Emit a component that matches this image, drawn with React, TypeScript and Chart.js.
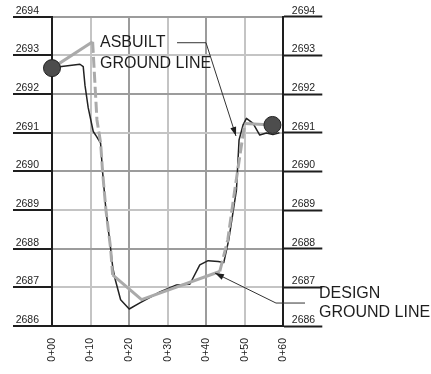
import React, { useEffect, useRef } from "react";
import { Chart, registerables } from "chart.js";

Chart.register(...registerables);

// Stations (x, in feet along the section) and elevations
const stationTicks = [0, 10, 20, 30, 40, 50, 60];
const elevationMin = 2686;
const elevationMax = 2694;

const designX = [0, 10.54, 11.66, 12.62, 13.13, 13.99, 15.21, 15.73, 23.24, 43.52, 45.6, 47.41, 50.0, 57.18];
const designY = [2692.67, 2693.35, 2691.33, 2690.73, 2689.98, 2689.0, 2688.0, 2687.32, 2686.68, 2687.41, 2688.23, 2689.52, 2691.24, 2691.2];

const asbuiltX = [0, 2.5, 7.25, 8.1, 8.55, 9.4, 10.7, 11.58, 12.6, 13.13, 13.99, 15.21, 15.73, 16.3, 17.8, 20.03, 22.8, 27.98, 32.3, 35.75, 38.34, 40.5, 43.1, 44.56, 45.85, 47.85, 48.52, 49.56, 50.44, 52.15, 53.89, 55.62, 57.3, 59.0];
const asbuiltY = [2692.67, 2692.71, 2692.77, 2692.71, 2692.23, 2691.64, 2691.03, 2690.9, 2690.73, 2689.98, 2689.0, 2688.0, 2687.54, 2687.24, 2686.68, 2686.44, 2686.6, 2686.88, 2687.06, 2687.08, 2687.58, 2687.69, 2687.67, 2687.64, 2688.23, 2689.52, 2690.81, 2691.2, 2691.37, 2691.24, 2690.94, 2690.99, 2690.95, 2691.0];

const markerX = [0, 57.18];
const markerY = [2692.67, 2691.2];

// Callout texts and anchors (data units)
const asbuiltLabel = ["ASBUILT", "GROUND LINE"];
const asbuiltLabelAt = { x: 12.45, y: [2693.224, 2692.665] };
const asbuiltLeader = { x: [32.43, 39.95, 47.73], y: [2693.327, 2693.327, 2690.914] };
const designLabel = ["DESIGN", "GROUND LINE"];
const designLabelAt = { x: 69.26, y: [2686.716, 2686.225] };
const designLeader = { x: [65.63, 58.1, 42.28], y: [2686.594, 2686.594, 2687.37] };

const FONT = "'Liberation Sans', Arial, sans-serif";
const DARK = "#1e1e1e";

function stationLabel(v: number) {
  return "0+" + String(v).padStart(2, "0");
}

function arrow(ctx: CanvasRenderingContext2D, fx: number, fy: number, tx: number, ty: number) {
  const a = Math.atan2(ty - fy, tx - fx);
  const len = 9, hw = 3;
  ctx.beginPath();
  ctx.moveTo(tx, ty);
  ctx.lineTo(tx - len * Math.cos(a) + hw * Math.sin(a), ty - len * Math.sin(a) - hw * Math.cos(a));
  ctx.lineTo(tx - len * Math.cos(a) - hw * Math.sin(a), ty - len * Math.sin(a) + hw * Math.cos(a));
  ctx.closePath();
  ctx.fill();
}

const calloutPlugin = {
  id: "callouts",
  afterDatasetsDraw(chart: any) {
    const ctx = chart.ctx as CanvasRenderingContext2D;
    const xs = chart.scales.x;
    const ys = chart.scales.y;
    const px = (v: number) => xs.getPixelForValue(v);
    const py = (v: number) => ys.getPixelForValue(v);
    ctx.save();
    ctx.fillStyle = DARK;
    ctx.strokeStyle = "#333";
    ctx.lineWidth = 1;
    ctx.font = "16px " + FONT;
    ctx.textAlign = "left";
    ctx.textBaseline = "alphabetic";
    asbuiltLabel.forEach((t, i) => ctx.fillText(t, px(asbuiltLabelAt.x), py(asbuiltLabelAt.y[i])));
    designLabel.forEach((t, i) => ctx.fillText(t, px(designLabelAt.x), py(designLabelAt.y[i])));

    const drawLeader = (L: { x: number[]; y: number[] }) => {
      ctx.beginPath();
      L.x.forEach((x, i) => {
        if (i === 0) ctx.moveTo(px(x), py(L.y[i]));
        else ctx.lineTo(px(x), py(L.y[i]));
      });
      ctx.stroke();
      const n = L.x.length;
      arrow(ctx, px(L.x[n - 2]), py(L.y[n - 2]), px(L.x[n - 1]), py(L.y[n - 1]));
    };
    drawLeader(asbuiltLeader);
    drawLeader(designLeader);
    ctx.restore();
  },
};

export default function App() {
  const ref = useRef<HTMLCanvasElement>(null);

  useEffect(() => {
    if (!ref.current) return;
    const yTicksCommon = {
      stepSize: 1,
      color: DARK,
      font: { family: FONT, size: 10.5 },
      labelOffset: -6,
      callback: (v: any) => String(v),
    };
    const chart = new Chart(ref.current, {
      type: "line",
      data: {
        datasets: [
          {
            label: "markers",
            data: markerX.map((x, i) => ({ x, y: markerY[i] })),
            showLine: false,
            pointRadius: 8.5,
            pointBackgroundColor: "#4d4d4d",
            pointBorderColor: "#222",
            pointBorderWidth: 1,
            clip: false,
            yAxisID: "y",
          },
          {
            label: "Design ground line",
            data: designX.map((x, i) => ({ x, y: designY[i] })),
            borderColor: "#aaaaaa",
            borderWidth: 3,
            pointRadius: 0,
            tension: 0,
            borderJoinStyle: "round",
            segment: {
              borderDash: (c: any) => {
                const dx = c.p1.parsed.x - c.p0.parsed.x;
                const dy = c.p1.parsed.y - c.p0.parsed.y;
                return Math.abs(dy / dx) > 0.25 ? [11, 4] : undefined;
              },
            },
            yAxisID: "y",
          },
          {
            label: "Asbuilt ground line",
            data: asbuiltX.map((x, i) => ({ x, y: asbuiltY[i] })),
            borderColor: "#222222",
            borderWidth: 1.5,
            pointRadius: 0,
            tension: 0,
            borderJoinStyle: "round",
            yAxisID: "y",
          },
        ],
      },
      options: {
        animation: false,
        responsive: false,
        devicePixelRatio: 1,
        layout: { padding: { left: 12, right: 107.7, top: 16.7, bottom: 8 } },
        plugins: { legend: { display: false }, tooltip: { enabled: false } },
        scales: {
          x: {
            type: "linear",
            position: "bottom",
            min: stationTicks[0],
            max: stationTicks[stationTicks.length - 1],
            afterBuildTicks: (s: any) => {
              s.ticks = stationTicks.map((v) => ({ value: v }));
            },
            afterFit: (s: any) => {
              s.height = 40;
            },
            ticks: {
              callback: (v: any) => stationLabel(Number(v)),
              minRotation: 90,
              maxRotation: 90,
              padding: 12,
              color: DARK,
              font: { family: FONT, size: 10.5 },
            },
            grid: {
              drawTicks: false,
              tickLength: 0,
              lineWidth: 2,
              color: (c: any) => {
                const v = c.tick?.value;
                if (v === 0 || v === 60) return "rgba(0,0,0,0)";
                return (v / 10) % 2 === 0 ? "#9c9c9c" : "#c4c4c4";
              },
            },
            border: { display: true, color: DARK, width: 2 },
          },
          y: {
            position: "left",
            min: elevationMin,
            max: elevationMax,
            afterFit: (s: any) => {
              s.width = 40;
            },
            ticks: { ...yTicksCommon, padding: -26 },
            grid: {
              lineWidth: 2,
              tickLength: 39,
              tickWidth: 2,
              tickColor: DARK,
              color: (c: any) => {
                const v = c.tick?.value;
                if (v === elevationMin) return "rgba(0,0,0,0)";
                return v % 2 === 0 ? "#9c9c9c" : "#c4c4c4";
              },
            },
            border: { display: true, color: DARK, width: 2 },
          },
          y2: {
            position: "right",
            min: elevationMin,
            max: elevationMax,
            afterFit: (s: any) => {
              s.width = 40;
            },
            ticks: { ...yTicksCommon, padding: -30.5 },
            grid: {
              drawOnChartArea: false,
              tickLength: 39,
              tickWidth: 2,
              tickColor: DARK,
            },
            border: { display: true, color: DARK, width: 2 },
          },
        },
      },
      plugins: [calloutPlugin],
    } as any);
    return () => chart.destroy();
  }, []);

  return (
    <div style={{ position: "absolute", left: 0, top: 0, width: 431, height: 374, background: "#fff" }}>
      <canvas ref={ref} width={431} height={374} style={{ width: 431, height: 374 }} />
    </div>
  );
}
